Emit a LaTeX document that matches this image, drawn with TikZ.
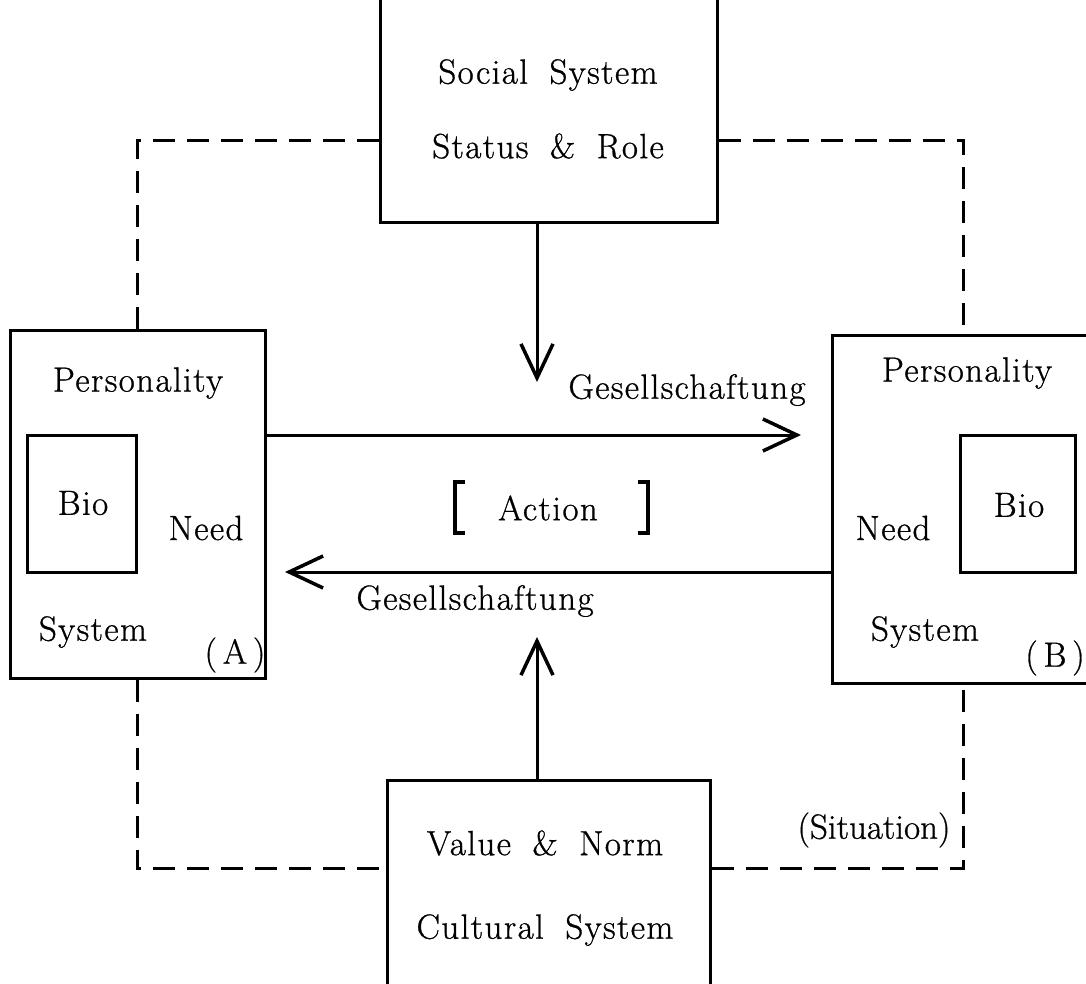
\documentclass[tikz,border=0pt]{standalone}
\usepackage{fontspec}
\usetikzlibrary{arrows.meta}
\newfontfamily\labelfont[LetterSpace=4,WordSpace=1.8,FakeBold=0.8]{Latin Modern Roman}
\begin{document}
\begin{tikzpicture}[x=1pt,y=-1pt,
  box/.style={draw,line width=3pt,rectangle,inner sep=0pt},
  lbl/.style={inner sep=0pt,font=\labelfont\fontsize{35}{40}\selectfont},
  link/.style={line width=3pt,dash pattern=on 22pt off 12pt},
  flow/.style={line width=3pt,-{Straight Barb[length=34pt,width=32pt,line width=3.5pt]}}]
\useasboundingbox (0,0) rectangle (1086,983);

% boxes
\node[box,minimum width=337pt,minimum height=240pt] (tbox) at (548.5,102) {};
\node[box,minimum width=323pt,minimum height=220pt] (bbox) at (548.5,890) {};
\node[box,minimum width=255pt,minimum height=348pt] (lbox) at (137.5,504) {};
\node[box,minimum width=263pt,minimum height=348pt] (rbox) at (963.5,509) {};
\node[box,minimum width=109pt,minimum height=137pt] (lbio) at (81.5,503.5) {};
\node[box,minimum width=115pt,minimum height=137pt] (rbio) at (1017.5,503.5) {};

% texts
\node[lbl] (t1) at (548,75) {Social System};
\node[lbl] (t2) at (548,146) {Status \& Role};
\node[lbl] (t3) at (545,843) {Value \& Norm};
\node[lbl] (t4) at (545,930) {Cultural System};
\node[lbl] (lp) at (138,383) {Personality};
\node[lbl] (lb) at (83,503) {Bio};
\node[lbl] (ln) at (206,528) {Need};
\node[lbl] (ls) at (93,632) {System};
\node[lbl] (la) at (235,655) {(\,A\,)};
\node[lbl] (rp) at (967,373) {Personality};
\node[lbl] (rb) at (1019,505) {Bio};
\node[lbl] (rn) at (893,528) {Need};
\node[lbl] (rs) at (925,632) {System};
\node[lbl] (rl) at (1055,658) {(\,B\,)};
\node[lbl] (g1) at (687,390) {Gesellschaftung};
\node[lbl] (g2) at (475,601) {Gesellschaftung};
\node[lbl] (act) at (548,508) {Action};
\node[lbl,font=\labelfont\fontsize{35}{40}\selectfont\addfontfeatures{LetterSpace=0}] (sit) at (874,830) {(Situation)};

% square brackets around the action label
\draw[line width=4pt] (465,482) -- (455,482) -- (455,533) -- (465,533);
\draw[line width=4pt] (638,482) -- (648,482) -- (648,533) -- (638,533);

% dashed links between the systems
\coordinate (hu) at (0,140);
\coordinate (hd) at (0,868);
\draw[link] (lbox.north) |- (tbox.west |- hu);
\draw[link] (tbox.east |- hu) -| (rbox.north);
\draw[link] (lbox.south) |- (bbox.west |- hd);
\draw[link] (bbox.east |- hd) -| (rbox.south);

% action flows
\coordinate (ta) at (537,382);
\coordinate (ba) at (537,637);
\coordinate (ra) at (801,435);
\coordinate (la2) at (285,572);
\draw[flow] (tbox.south -| ta) -- (ta);
\draw[flow] (bbox.north -| ba) -- (ba);
\draw[flow] (lbox.east |- ra) -- (ra);
\draw[flow] (rbox.west |- la2) -- (la2);
\end{tikzpicture}
\end{document}
